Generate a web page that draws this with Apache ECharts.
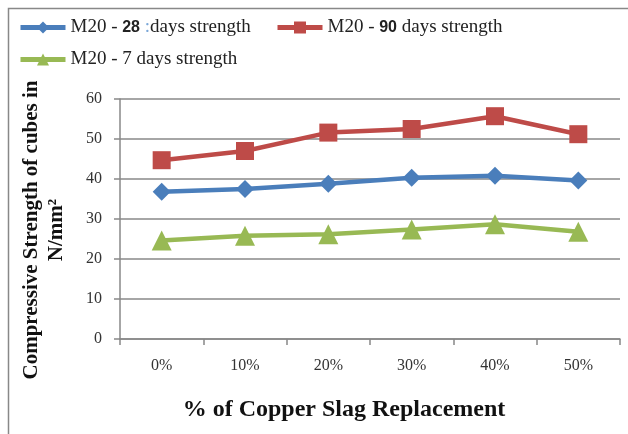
<!DOCTYPE html>
<html><head><meta charset="utf-8">
<script src="https://cdn.jsdelivr.net/npm/echarts@6/dist/echarts.min.js"></script>
<style>html,body{margin:0;padding:0;background:#fff}#c{width:628px;height:434px}</style>
</head><body><div id="c"></div>
<script>
var categories = ['0%','10%','20%','30%','40%','50%'];
var s28 = [36.8, 37.5, 38.8, 40.3, 40.8, 39.6];
var s90 = [44.7, 47.0, 51.6, 52.5, 55.7, 51.2];
var s7  = [24.6, 25.8, 26.2, 27.4, 28.7, 26.8];
var yTicks = [0,10,20,30,40,50,60];
var names = ['M20 - 28 days strength','M20 - 90 days strength','M20 - 7 days strength'];
var xTitle = '% of Copper Slag Replacement';
var yTitle = 'Compressive Strength of cubes in\nN/mm²';

var chart = echarts.init(document.getElementById('c'));
var serif = '"Liberation Serif", "DejaVu Serif", serif';
var legendText = {fontFamily: serif, fontSize: 19, color: '#222',
  rich: {b: {fontFamily: '"Liberation Sans", Arial, sans-serif', fontWeight: 'bold', fontSize: 16, color: '#222'},
         c: {fontFamily: serif, fontSize: 19, color: '#7aa7d8'}}};
function legendFmt(n){
  if (n === names[0]) return 'M20 - {b|28} {c|:}days strength';
  if (n === names[1]) return 'M20 - {b|90} days strength';
  return n;
}
var legendCommon = {itemWidth:45, itemHeight:15, textStyle:legendText, formatter:legendFmt,
  lineStyle:{width:5}, padding:0};
chart.setOption({
  animation: false,
  graphic: [
    {type:'rect', shape:{x:8.5,y:8.5,width:700,height:500}, style:{fill:'none', stroke:'#888', lineWidth:1.5}},
    {type:'text', x:44, y:230, rotation:Math.PI/2,
     style:{text:yTitle, fontFamily:serif, fontWeight:'bold', fontSize:21, fill:'#111',
            align:'center', verticalAlign:'middle', lineHeight:25}},
    {type:'text', x:344, y:410,
     style:{text:xTitle, fontFamily:serif, fontWeight:'bold', fontSize:24, fill:'#111',
            align:'center', verticalAlign:'middle'}}
  ],
  legend: [
    Object.assign({data:[names[0]], left:18, top:18}, legendCommon),
    Object.assign({data:[names[1]], left:275, top:18}, legendCommon),
    Object.assign({data:[names[2]], left:18, top:50}, legendCommon)
  ],
  grid: {left:120, right:8, top:99, bottom:95},
  xAxis: {
    type:'category', data:categories, boundaryGap:true,
    axisLine:{lineStyle:{color:'#888', width:1.5}},
    axisTick:{show:true, alignWithLabel:false, length:6, lineStyle:{color:'#888', width:1.5}},
    axisLabel:{fontFamily:serif, fontSize:16, color:'#333', margin:19}
  },
  yAxis: {
    type:'value', min:0, max:60, interval:10,
    axisLine:{show:true, lineStyle:{color:'#888', width:1.5}},
    axisTick:{show:true, length:6, lineStyle:{color:'#888', width:1.5}},
    splitLine:{lineStyle:{color:'#888', width:1.5}},
    axisLabel:{fontFamily:serif, fontSize:16, color:'#333', margin:18,
      formatter:function(v){return yTicks.indexOf(v)>=0 ? String(v) : '';}}
  },
  series: [
    {name:names[0], type:'line', data:s28, symbol:'diamond', symbolSize:18,
     lineStyle:{color:'#4a7ebb', width:4.5}, itemStyle:{color:'#4a7ebb'}},
    {name:names[1], type:'line', data:s90, symbol:'rect', symbolSize:18,
     lineStyle:{color:'#be4b48', width:4.5}, itemStyle:{color:'#be4b48'}},
    {name:names[2], type:'line', data:s7, symbol:'triangle', symbolSize:20,
     lineStyle:{color:'#98b954', width:4.5}, itemStyle:{color:'#98b954'}}
  ]
});
</script></body></html>
